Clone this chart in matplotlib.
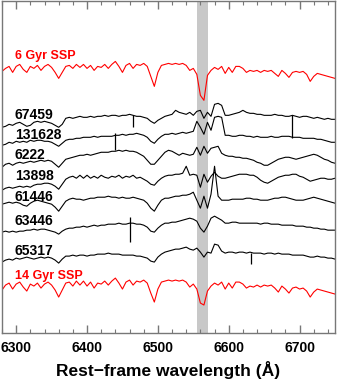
import numpy as np
import matplotlib.pyplot as plt
from matplotlib.ticker import MultipleLocator

plt.rcParams['font.family'] = ['Liberation Sans', 'DejaVu Sans']

# wavelength sampling (Angstrom), 5 A steps
wave = np.arange(6280, 6751, 5)

# fluxes in percent of local continuum (100 = continuum), read by eye
ssp_6gyr = [95, 98, 100, 94, 100, 102, 97, 94, 100, 98,
            101, 96, 100, 102, 99, 94, 88, 94, 100, 101,
            98, 102, 99, 102, 98, 101, 96, 100, 99, 102,
            98, 102, 105, 100, 94, 101, 103, 98, 102, 101,
            103, 100, 90, 80, 94, 101, 102, 103, 102, 103,
            102, 103, 101, 96, 98, 92, 71, 66, 91, 96,
            99, 97, 100, 93, 99, 94, 100, 100, 98, 94,
            96, 95, 96, 94, 96, 95, 96, 93, 90, 96,
            93, 89, 94, 95, 94, 95, 92, 85, 90, 93,
            92, 91, 90, 89, 88]
gal_67459 = [88, 89, 91, 90, 92, 93, 91, 89, 90, 93,
             94, 93, 94, 93, 92, 90, 88, 91, 97, 98,
             97, 98, 99, 98, 98, 99, 98, 99, 99, 100,
             99, 100, 100, 99, 100, 100, 101, 100, 99, 99,
             98, 97, 94, 92, 95, 97, 99, 100, 101, 105,
             103, 102, 101, 103, 100, 104, 105, 97, 103, 99,
             111, 112, 110, 100, 100, 101, 102, 103, 105, 103,
             102, 102, 101, 101, 100, 100, 100, 101, 100, 100,
             99, 99, 100, 99, 98, 99, 99, 98, 97, 98,
             97, 96, 97, 96, 96]
gal_131628 = [90, 91, 93, 92, 94, 93, 94, 93, 95, 94,
              95, 95, 94, 94, 93, 91, 89, 92, 95, 96,
              96, 97, 97, 98, 98, 98, 99, 98, 99, 99,
              99, 99, 100, 100, 101, 100, 101, 101, 102, 101,
              100, 98, 94, 92, 96, 99, 101, 101, 102, 101,
              102, 103, 102, 103, 104, 114, 108, 101, 113, 105,
              118, 119, 118, 100, 100, 99, 99, 100, 100, 99,
              99, 98, 99, 98, 98, 98, 99, 98, 98, 99,
              99, 99, 98, 98, 98, 97, 97, 97, 97, 96,
              96, 95, 94, 93, 93]
gal_6222 = [88, 91, 92, 90, 92, 93, 92, 93, 94, 93,
            94, 95, 94, 95, 94, 91, 88, 92, 96, 97,
            98, 99, 100, 100, 101, 100, 101, 102, 103, 103,
            103, 104, 104, 105, 104, 105, 104, 104, 103, 101,
            99, 95, 91, 91, 95, 99, 103, 105, 104, 102,
            100, 102, 101, 100, 101, 108, 100, 109, 102, 107,
            108, 109, 102, 100, 99, 99, 98, 98, 97, 97,
            96, 95, 93, 92, 90, 90, 92, 94, 96, 97,
            98, 98, 97, 96, 97, 98, 99, 100, 101, 100,
            98, 96, 95, 93, 92]
gal_13898 = [85, 87, 88, 87, 88, 89, 88, 89, 88, 90,
             91, 91, 92, 92, 91, 89, 86, 91, 96, 98,
             99, 97, 100, 97, 100, 97, 99, 97, 100, 98,
             97, 99, 98, 100, 97, 99, 98, 100, 97, 98,
             96, 94, 91, 90, 94, 97, 99, 100, 100, 101,
             101, 102, 109, 100, 101, 100, 88, 101, 93, 99,
             103, 99, 97, 97, 98, 99, 100, 101, 101, 101,
             100, 100, 98, 95, 93, 92, 94, 96, 98, 99,
             100, 100, 101, 101, 99, 98, 96, 94, 95, 96,
             97, 97, 96, 96, 97]
gal_61446 = [93, 94, 95, 94, 95, 94, 92, 91, 94, 96,
             97, 96, 95, 94, 93, 90, 86, 91, 96, 98,
             99, 98, 98, 97, 98, 99, 99, 100, 100, 100,
             101, 100, 100, 99, 100, 99, 99, 100, 99, 98,
             97, 94, 89, 86, 92, 97, 99, 99, 100, 101,
             101, 102, 102, 103, 105, 97, 89, 101, 89, 103,
             131, 101, 97, 97, 97, 98, 98, 98, 98, 99,
             99, 98, 98, 97, 97, 97, 98, 99, 99, 100,
             100, 99, 98, 97, 97, 97, 98, 99, 100, 99,
             98, 97, 96, 95, 94]
gal_63446 = [91, 92, 91, 92, 91, 92, 92, 93, 93, 94,
             93, 94, 94, 93, 92, 91, 89, 92, 94, 95,
             95, 96, 96, 97, 96, 97, 98, 97, 98, 98,
             99, 99, 99, 100, 99, 99, 100, 100, 99, 99,
             98, 96, 92, 91, 95, 98, 100, 100, 101, 101,
             102, 103, 104, 105, 104, 102, 95, 91, 97, 105,
             107, 105, 103, 100, 100, 101, 101, 100, 100, 100,
             100, 100, 100, 99, 100, 100, 99, 99, 99, 98,
             98, 98, 98, 97, 97, 97, 96, 96, 95, 95,
             94, 94, 93, 93, 93]
gal_65317 = [91, 93, 94, 93, 95, 94, 95, 96, 95, 94,
             95, 96, 95, 96, 95, 93, 90, 94, 97, 97,
             98, 97, 98, 98, 97, 98, 98, 99, 99, 99,
             100, 99, 99, 99, 98, 98, 98, 98, 97, 97,
             96, 95, 92, 91, 96, 99, 101, 102, 103, 104,
             104, 105, 106, 104, 103, 105, 101, 96, 101, 100,
             109, 108, 102, 100, 101, 101, 100, 101, 101, 100,
             101, 100, 100, 100, 99, 100, 100, 99, 100, 99,
             99, 99, 98, 98, 98, 98, 97, 96, 96, 97,
             96, 96, 95, 95, 94]
ssp_14gyr = [90, 95, 97, 91, 96, 98, 93, 89, 96, 94,
             97, 92, 96, 98, 95, 90, 83, 90, 97, 98,
             94, 99, 95, 99, 94, 98, 92, 97, 96, 99,
             95, 99, 102, 97, 91, 98, 100, 95, 99, 98,
             100, 97, 87, 78, 91, 98, 99, 100, 99, 100,
             99, 100, 98, 93, 96, 91, 77, 75, 89, 94,
             97, 95, 98, 91, 97, 92, 98, 98, 96, 92,
             94, 93, 95, 93, 95, 94, 95, 92, 88, 94,
             91, 87, 92, 93, 91, 92, 89, 83, 88, 91,
             90, 89, 88, 87, 86]

names = ['6 Gyr SSP', '67459', '131628', '6222', '13898',
         '61446', '63446', '65317', '14 Gyr SSP']
spectra = [ssp_6gyr, gal_67459, gal_131628, gal_6222, gal_13898,
           gal_61446, gal_63446, gal_65317, ssp_14gyr]

# single-pixel spikes: (spectrum, wavelength, top, bottom) in percent
spikes = [('67459', 6465, 100, 88),
          ('131628', 6439, 102, 85),
          ('131628', 6690, 120, 97),
          ('63446', 6460, 106, 81),
          ('65317', 6631, 100, 89)]

# vertical offsets of each spectrum and of its label
levels = [2.67, 2.18, 1.98, 1.78, 1.58, 1.36, 1.10, 0.80, 0.53]
label_y = [2.77, 2.18, 1.98, 1.78, 1.575, 1.36, 1.12, 0.825, 0.57]
colors = ['red'] + ['black'] * 7 + ['red']

fig = plt.figure(figsize=(3.37, 3.82), dpi=100)
ax = fig.add_axes([2 / 337, 49 / 382, 333 / 337, 332.5 / 382])

ax.axvspan(6555, 6571, color='#c8c8c8', lw=0, zorder=0)

for name, flux, lvl, ly, c in zip(names, spectra, levels, label_y, colors):
    y = np.array(flux) / 100.0 - 1 + lvl
    ax.plot(wave, y, color=c, lw=0.8)
    fs = 9 if 'SSP' in name else 10
    ax.text(6298, ly, name, color=c, fontsize=fs, fontweight='bold',
            ha='left', va='center')

for name, lam, top, bot in spikes:
    lvl = levels[names.index(name)]
    ax.vlines(lam, bot / 100.0 - 1 + lvl, top / 100.0 - 1 + lvl,
              color='black', lw=0.9)

ax.set_xlim(6280, 6750)
ax.set_ylim(0, 3.33)
ax.set_yticks([])
ax.xaxis.set_major_locator(MultipleLocator(100))
ax.xaxis.set_minor_locator(MultipleLocator(20))
ax.tick_params(axis='x', which='both', direction='in', top=True,
               colors='#777777', labelcolor='black', labelsize=10, pad=6)
ax.tick_params(axis='x', which='major', length=6, width=1)
ax.tick_params(axis='x', which='minor', length=3.2, width=0.8)
for lab in ax.get_xticklabels():
    lab.set_fontweight('bold')
for s in ax.spines.values():
    s.set_color('#777777')
    s.set_linewidth(1)

ax.set_xlabel('Rest\u2212frame wavelength (\u00c5)', fontsize=12.5,
              fontweight='bold', labelpad=4)

fig.savefig('out.png', dpi=100)
